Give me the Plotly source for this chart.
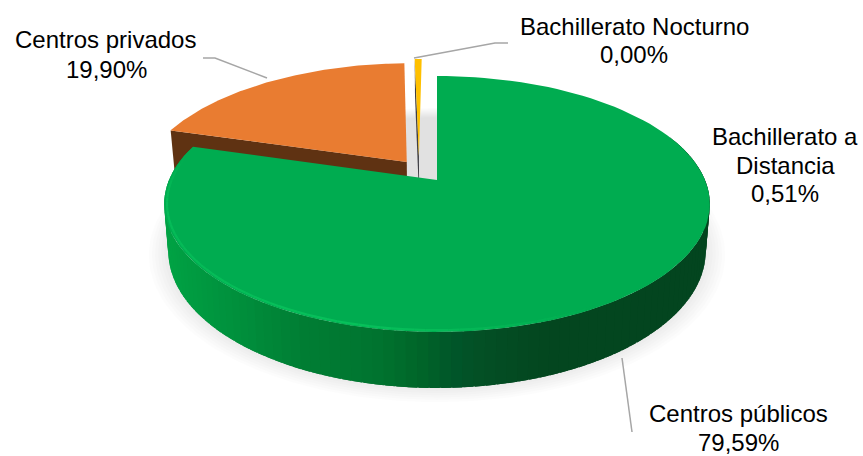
import numpy as np
import plotly.graph_objects as go

categories = ["Centros públicos", "Centros privados", "Bachillerato a Distancia", "Bachillerato Nocturno"]
values = [79.59, 19.90, 0.51, 0.00]
label_texts = ["79,59%", "19,90%", "0,51%", "0,00%"]

TOP_COL = {"Centros públicos": "#00AC50", "Centros privados": "#E97C31",
           "Bachillerato a Distancia": "#FFC000", "Bachillerato Nocturno": "#4472C4"}
WALL_COL = {"Centros privados": "#5F3212", "Bachillerato a Distancia": "#3E3E44"}
PULL = {"Centros públicos": (0.0, 0.0), "Centros privados": (-0.116, 0.150),
        "Bachillerato a Distancia": (-0.07, 0.20), "Bachillerato Nocturno": (-0.07, 0.20)}

X0, Y0, A, B, K, DEPTH, LOW = 437.0, 180.0, 268.0, 123.5, 0.1875, 45.5, 0.985


def proj(u, v, lower=False):
    u, v = np.asarray(u, float), np.asarray(v, float)
    w = 1 + K * v
    if lower:
        return X0 + LOW * A * u / w, Y0 - B * v / w + DEPTH / w
    return X0 + A * u / w, Y0 - B * v / w


def poly(fig, xs, ys, color):
    fig.add_trace(go.Scatter(x=np.round(xs, 2), y=np.round(ys, 2), mode="lines", fill="toself",
                             fillcolor=color, line=dict(width=0), hoverinfo="skip", showlegend=False))


def lerp_color(x, stops):
    xs = [s[0] for s in stops]
    rgb = [np.interp(x, xs, [int(s[1][i:i + 2], 16) for s in stops]) for i in (1, 3, 5)]
    return "rgb(%d,%d,%d)" % tuple(rgb)


side_stops = [(165, "#00A445"), (250, "#008C3B"), (300, "#007E34"), (370, "#007530"),
              (420, "#006429"), (445, "#00572A"), (480, "#044F25"), (540, "#03471F"), (710, "#03451F")]

fig = go.Figure()

# soft shadow of the whole disc
full = np.radians(np.linspace(0, 360, 241))
for r in np.linspace(1.07, 0.97, 10):
    sx, sy = proj(r * np.sin(full), r * np.cos(full), lower=True)
    poly(fig, sx, sy, "rgba(0,0,0,0.0125)")

# slice angles
cum = np.cumsum([0] + values) / sum(values) * 2 * np.pi
spans = {c: (cum[i], cum[i + 1]) for i, c in enumerate(categories)}


def sector(cat):
    a0, a1 = spans[cat]
    du, dv = PULL[cat]
    th = np.linspace(a0, a1, 120)
    return du + np.sin(th), dv + np.cos(th), du, dv


# pulled slices: radial wall, then top
for cat in ["Bachillerato a Distancia", "Centros privados"]:
    u, v, du, dv = sector(cat)
    wu, wv = u[0], v[0]
    tx, ty = proj([wu, du], [wv, dv])
    bx, by = proj([du, wu], [dv, wv], lower=True)
    poly(fig, np.r_[tx, bx], np.r_[ty, by], WALL_COL[cat])
    sx, sy = proj(np.r_[du, u], np.r_[dv, v])
    poly(fig, sx, sy, TOP_COL[cat])

# main slice: outer wall with horizontal shading, each strip overlapping the last
cat = categories[0]
a0, a1 = spans[cat]
edges = np.linspace(np.radians(70), a1, 110)
for t0, t1 in zip(edges[:-1], edges[1:]):
    angs = np.array([t0 - 0.03, t1])
    uu, vv = np.sin(angs), np.cos(angs)
    tx, ty = proj(uu, vv)
    bx, by = proj(uu[::-1], vv[::-1], lower=True)
    poly(fig, np.r_[tx, bx], np.r_[ty, by], lerp_color(float(bx.mean()), side_stops))

u, v, du, dv = sector(cat)
sx, sy = proj(np.r_[du, u], np.r_[dv, v])
poly(fig, sx, sy, TOP_COL[cat])

# rim highlight
rim = np.radians(np.linspace(282, 150, 67))
for t0, t1 in zip(rim[:-1], rim[1:]):
    deg = np.degrees(t0)
    alpha = float(np.interp(deg, [150, 195, 240, 262, 282], [0.0, 0.75, 0.5, 0.6, 0.0]))
    rx, ry = proj(0.99 * np.sin([t0, t1]), 0.99 * np.cos([t0, t1]))
    fig.add_trace(go.Scatter(x=np.round(rx, 2), y=np.round(ry, 2), mode="lines",
                             line=dict(width=2.2, color="rgba(10,200,95,%.2f)" % alpha),
                             hoverinfo="skip", showlegend=False))

# leader lines
leader_col = "#A6A6A6"
leaders = ["M 203 58 L 215 58 L 267 78", "M 414 58 L 495 43 L 508 43", "M 622 358 L 632 432"]
shapes = [dict(type="path", path=p, xref="x", yref="y", line=dict(color=leader_col, width=1.5)) for p in leaders]

labels = [
    ("Centros públicos", 738, 413), (label_texts[0], 738, 442),
    ("Centros privados", 105, 39), (label_texts[1], 106, 69),
    ("Bachillerato a", 785, 136), ("Distancia", 785, 165), (label_texts[2], 785, 193),
    ("Bachillerato Nocturno", 634, 26), (label_texts[3], 634, 54),
]
annotations = [dict(text=t, x=x, y=y, xref="x", yref="y", showarrow=False, align="center",
                    xanchor="center", yanchor="middle",
                    font=dict(family="Liberation Sans", size=24, color="#000000"))
               for t, x, y in labels]

fig.update_layout(
    width=863, height=456, autosize=False, margin=dict(l=0, r=0, t=0, b=0),
    paper_bgcolor="white", plot_bgcolor="white", showlegend=False,
    xaxis=dict(range=[0, 863], visible=False, fixedrange=True),
    yaxis=dict(range=[456, 0], visible=False, fixedrange=True),
    shapes=shapes, annotations=annotations,
)
fig.write_html("out.html", config={"displayModeBar": False},
               post_script="document.body.style.margin='0';")
